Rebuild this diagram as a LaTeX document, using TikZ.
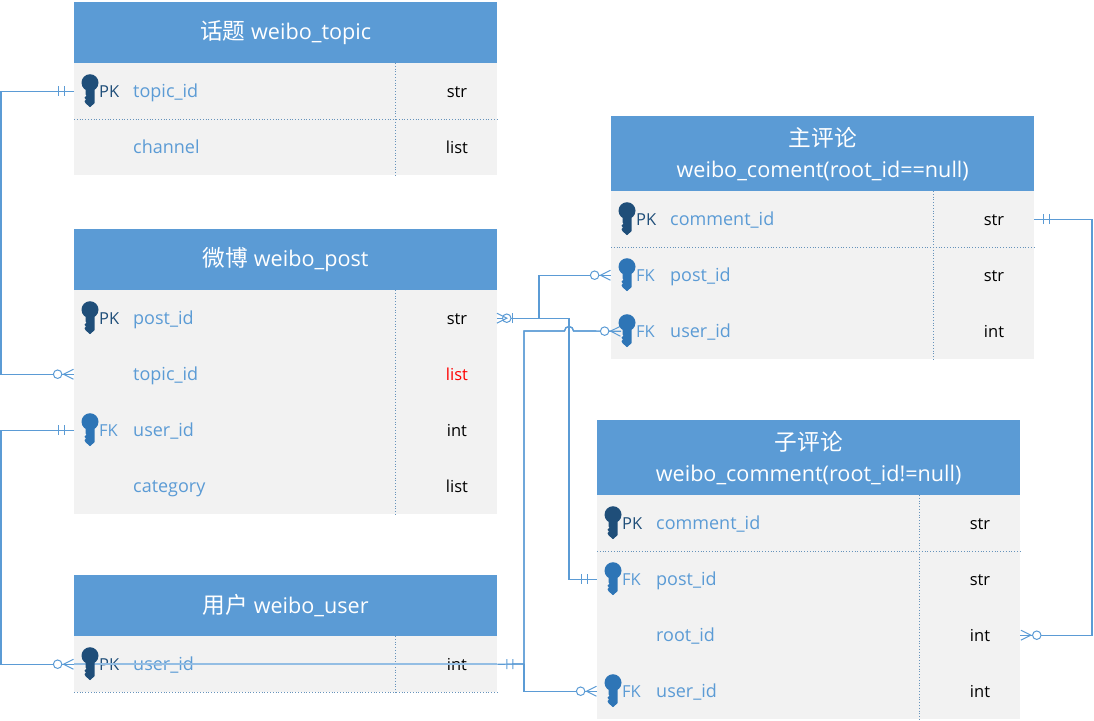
\documentclass[tikz,border=0pt]{standalone}
\usepackage{fontspec}
\setmainfont{Open Sans}
\newfontfamily\cjk[Scale=1.05]{Noto Sans CJK SC}
\usetikzlibrary{arrows.meta}

\definecolor{headblue}{HTML}{5B9BD5}
\definecolor{rowgray}{HTML}{F2F2F2}
\definecolor{pkblue}{HTML}{1F4E79}
\definecolor{fkblue}{HTML}{2E75B6}

\tikzset{
    headbox/.style={fill=headblue, text=white, minimum width=423pt, inner sep=0pt, anchor=north west, align=center, font=\fontsize{21.6}{31}\selectfont},
    rowbox/.style={fill=rowgray, minimum width=423pt, minimum height=56pt, inner sep=0pt, anchor=north west},
    fieldtext/.style={text=headblue, inner sep=0pt, anchor=west, text height=12pt, text depth=0pt, font=\fontsize{18}{20}\selectfont},
    tagtext/.style={inner sep=0pt, anchor=west, text height=12pt, text depth=0pt, font=\fontsize{16.5}{20}\selectfont},
    typetext/.style={text=black, inner sep=0pt, text height=12pt, text depth=0pt, font=\fontsize{16.5}{20}\selectfont},
    rowline/.style={headblue!70!gray, dotted, line width=0.8pt},
    conn/.style={headblue, line width=1.2pt, preaction={draw, headblue, line width=1.2pt, arrows=-}},
    paleconn/.style={headblue!65, line width=1.6pt},
    onlyone/.tip={Bar[width=10pt,line width=1pt,sep=5pt] Bar[width=10pt,line width=1pt,sep=9pt]},
    manyzero/.tip={Circle[open,fill=white,length=9.5pt,width=9.5pt,line width=1pt,sep=0pt] Straight Barb[reversed,length=10pt,width=10pt,line width=1pt]}
}

% One table row: name, x, top y, field, type
\newcommand{\fieldrow}[5]{
    \node[rowbox] (#1) at (#2,#3) {};
    \node[fieldtext] (#1_field) at ([xshift=59pt]#1.west) {#4};
    \node[typetext] (#1_type) at ([xshift=383pt]#1.west) {#5};
}
% Key tag: row, tag, tag colour
\newcommand{\keytag}[3]{
    \node[tagtext, text=#3] (#1_tag) at ([xshift=25pt]#1.west) {#2};
}
% Key icon: row, colour
\newcommand{\keyicon}[2]{
    \fill[#2, shift={([xshift=16pt]#1.west)}] (0,-8.5) circle (8.5pt)
        (-4.5,-3) -- (-4.5,3) -- (-3.5,4.5) -- (-5.5,6.5) -- (-4,8.5) -- (-5.5,10) -- (-4.5,12) -- (0,16) -- (4.5,12) -- (4.5,-3) -- cycle;
}

\begin{document}
\begin{tikzpicture}[x=1pt,y=-1pt]
    \useasboundingbox (0,0) rectangle (1094,720);

    % Topic table
    \node[headbox, minimum height=61pt] (topic_head) at (74,2) {\raisebox{-2pt}{{\cjk 话题} weibo\_topic}};
    \fieldrow{topic_topic_id}{74}{63}{topic\_id}{str}
    \fieldrow{topic_channel}{74}{119}{channel}{list}
    \keytag{topic_topic_id}{PK}{pkblue}
    \draw[rowline] (topic_topic_id.south west) -- (topic_topic_id.south east);
    \draw[rowline] ([xshift=321pt]topic_topic_id.north west) -- ([xshift=321pt]topic_channel.south west);

    % Post table
    \node[headbox, minimum height=61pt] (post_head) at (74,229) {\raisebox{-2pt}{{\cjk 微博} weibo\_post}};
    \fieldrow{post_post_id}{74}{290}{post\_id}{str}
    \fieldrow{post_topic_id}{74}{346}{topic\_id}{\textcolor{red}{list}}
    \fieldrow{post_user_id}{74}{402}{user\_id}{int}
    \fieldrow{post_category}{74}{458}{category}{list}
    \keytag{post_post_id}{PK}{pkblue}
    \keytag{post_user_id}{FK}{headblue}
    \draw[rowline] ([xshift=321pt]post_post_id.north west) -- ([xshift=321pt]post_category.south west);

    % User table
    \node[headbox, minimum height=61pt] (user_head) at (74,575) {\raisebox{-2pt}{{\cjk 用户} weibo\_user}};
    \fieldrow{user_user_id}{74}{636}{user\_id}{int}
    \keytag{user_user_id}{PK}{pkblue}
    \draw[rowline] (user_user_id.south west) -- (user_user_id.south east);
    \draw[rowline] ([xshift=321pt]user_user_id.north west) -- ([xshift=321pt]user_user_id.south west);

    % Main comment table
    \node[headbox, minimum height=75pt] (main_head) at (611,116) {{\cjk 主评论}\\weibo\_coment(root\_id==null)};
    \fieldrow{main_comment_id}{611}{191}{comment\_id}{str}
    \fieldrow{main_post_id}{611}{247}{post\_id}{str}
    \fieldrow{main_user_id}{611}{303}{user\_id}{int}
    \keytag{main_comment_id}{PK}{pkblue}
    \keytag{main_post_id}{FK}{headblue}
    \keytag{main_user_id}{FK}{headblue}
    \draw[rowline] (main_comment_id.south west) -- (main_comment_id.south east);
    \draw[rowline] ([xshift=322pt]main_comment_id.north west) -- ([xshift=322pt]main_user_id.south west);

    % Sub comment table
    \node[headbox, minimum height=75pt] (sub_head) at (597,420) {{\cjk 子评论}\\weibo\_comment(root\_id!=null)};
    \fieldrow{sub_comment_id}{597}{495}{comment\_id}{str}
    \fieldrow{sub_post_id}{597}{551}{post\_id}{str}
    \fieldrow{sub_root_id}{597}{607}{root\_id}{int}
    \fieldrow{sub_user_id}{597}{663}{user\_id}{int}
    \keytag{sub_comment_id}{PK}{pkblue}
    \keytag{sub_post_id}{FK}{headblue}
    \keytag{sub_user_id}{FK}{headblue}
    \draw[rowline] (sub_comment_id.south west) -- (sub_comment_id.south east);
    \draw[rowline] ([xshift=322pt]sub_comment_id.north west) -- ([xshift=322pt]sub_user_id.south west);

    % Bend points of the connectors
    \coordinate (topic_rail) at (1,200);
    \coordinate (left_rail) at (1,500);
    \coordinate (right_rail) at (1092,400);
    \coordinate (post_rail) at (569,400);
    \coordinate (post_branch) at (539,318);
    \coordinate (user_rail) at (524,664);
    \coordinate (jump_start) at (564.5,331);

    % Connectors
    \draw[conn, {onlyone}-{manyzero}] (topic_topic_id.west) -| (topic_rail) |- (post_topic_id.west);
    \draw[conn, {onlyone}-{manyzero}] (post_user_id.west) -| (left_rail) |- (user_user_id.west);
    \draw[paleconn] (user_user_id.west) -- (user_user_id.east);
    \draw[conn, {onlyone}-] (user_user_id.east) -- (user_rail);
    \draw[conn, -{manyzero}] (user_rail) |- (sub_user_id.west);
    \draw[conn, -{manyzero}] (user_rail) |- (jump_start) arc[start angle=180, end angle=0, radius=4.5pt] -- ([xshift=10pt]main_user_id.west);
    \draw[conn, {Straight Barb[reversed,length=10pt,width=10pt,line width=1pt,sep=-1pt] Circle[open,fill=white,length=9.5pt,width=9.5pt,line width=1pt,sep=-6pt] Bar[width=10pt,line width=1pt]}-{onlyone}] (post_post_id.east) -| (post_rail) |- (sub_post_id.west);
    \draw[conn, -{manyzero}] (post_branch) |- (main_post_id.west);
    \draw[conn, {onlyone}-{manyzero}] (main_comment_id.east) -| (right_rail) |- (sub_root_id.east);

    % Key icons lie over the connectors
    \keyicon{topic_topic_id}{pkblue}
    \keyicon{post_post_id}{pkblue}
    \keyicon{post_user_id}{fkblue}
    \keyicon{user_user_id}{pkblue}
    \keyicon{main_comment_id}{pkblue}
    \keyicon{main_post_id}{fkblue}
    \keyicon{main_user_id}{fkblue}
    \keyicon{sub_comment_id}{pkblue}
    \keyicon{sub_post_id}{fkblue}
    \keyicon{sub_user_id}{fkblue}
\end{tikzpicture}
\end{document}
